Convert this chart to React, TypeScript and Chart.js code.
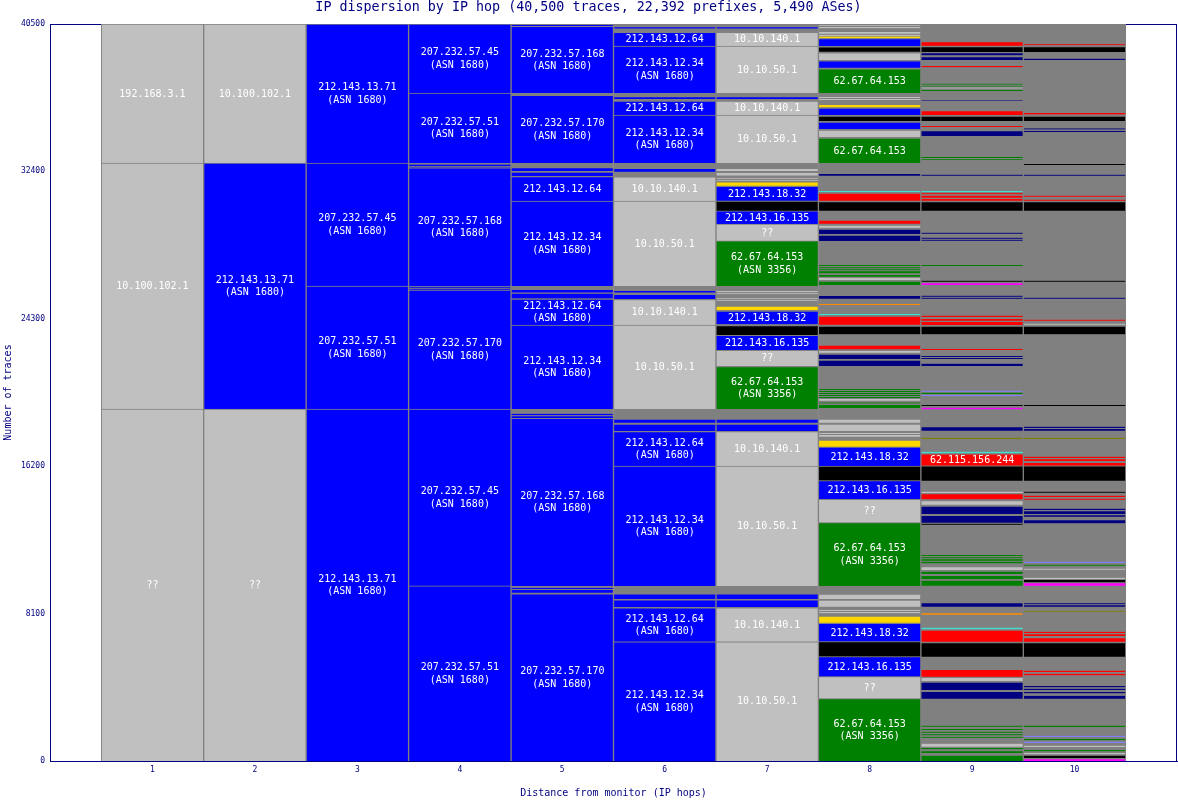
import React, { useEffect, useRef } from 'react';
import { Chart, registerables } from 'chart.js';

Chart.register(...registerables);

type Seg = [number, number, string, string];

const TITLE = 'IP dispersion by IP hop (40,500 traces, 22,392 prefixes, 5,490 ASes)';
const X_TITLE = 'Distance from monitor (IP hops)';
const Y_TITLE = 'Number of traces';
const TOTAL_TRACES = 40500;
const HOPS = [1, 2, 3, 4, 5, 6, 7, 8, 9, 10];
const Y_TICKS = [0, 8100, 16200, 24300, 32400, 40500];

// [low, high, group, label]
const hop1: Seg[] = [
  [32860, 40500, 'priv', '192.168.3.1'],
  [19340, 32860, 'priv', '10.100.102.1'],
  [0, 19340, 'priv', '??'],
];

const hop2: Seg[] = [
  [32860, 40500, 'priv', '10.100.102.1'],
  [19340, 32860, 'as1680', '212.143.13.71\n(ASN 1680)'],
  [0, 19340, 'priv', '??'],
];

const hop3: Seg[] = [
  [32860, 40500, 'as1680', '212.143.13.71\n(ASN 1680)'],
  [26100, 32860, 'as1680', '207.232.57.45\n(ASN 1680)'],
  [19340, 26100, 'as1680', '207.232.57.51\n(ASN 1680)'],
  [0, 19340, 'as1680', '212.143.13.71\n(ASN 1680)'],
];

const hop4: Seg[] = [
  [36710, 40500, 'as1680', '207.232.57.45\n(ASN 1680)'],
  [32860, 36710, 'as1680', '207.232.57.51\n(ASN 1680)'],
  [32700, 32780, 'as1680', ''],
  [32610, 32660, 'as1680', ''],
  [26100, 32590, 'as1680', '207.232.57.168\n(ASN 1680)'],
  [26010, 26060, 'as1680', ''],
  [25900, 25955, 'as1680', ''],
  [19340, 25880, 'as1680', '207.232.57.170\n(ASN 1680)'],
  [9620, 19340, 'as1680', '207.232.57.45\n(ASN 1680)'],
  [0, 9620, 'as1680', '207.232.57.51\n(ASN 1680)'],
];

const hop5: Seg[] = [
  [40390, 40445, 'as1680', ''],
  [36710, 40370, 'as1680', '207.232.57.168\n(ASN 1680)'],
  [32860, 36580, 'as1680', '207.232.57.170\n(ASN 1680)'],
  [32420, 32570, 'as1680', ''],
  [32150, 32365, 'as1680', ''],
  [30770, 32110, 'as1680', '212.143.12.64'],
  [26100, 30770, 'as1680', '212.143.12.34\n(ASN 1680)'],
  [25740, 25880, 'as1680', ''],
  [25420, 25720, 'as1680', ''],
  [23960, 25390, 'as1680', '212.143.12.64\n(ASN 1680)'],
  [19340, 23960, 'as1680', '212.143.12.34\n(ASN 1680)'],
  [19000, 19080, 'as1680', ''],
  [18840, 18950, 'as1680', ''],
  [9620, 18830, 'as1680', '207.232.57.168\n(ASN 1680)'],
  [9450, 9520, 'as1680', ''],
  [9250, 9400, 'as1680', ''],
  [0, 9180, 'as1680', '207.232.57.170\n(ASN 1680)'],
];

const hop6: Seg[] = [
  [40250, 40320, 'as1680', ''],
  [39290, 40045, 'as1680', '212.143.12.64'],
  [36710, 39290, 'as1680', '212.143.12.34\n(ASN 1680)'],
  [36380, 36470, 'as1680', ''],
  [35500, 36270, 'as1680', '212.143.12.64'],
  [32860, 35500, 'as1680', '212.143.12.34\n(ASN 1680)'],
  [32380, 32530, 'as1680', ''],
  [30770, 32100, 'priv', '10.10.140.1'],
  [26100, 30770, 'priv', '10.10.50.1'],
  [25740, 25830, 'as1680', ''],
  [25390, 25650, 'as1680', ''],
  [23960, 25350, 'priv', '10.10.140.1'],
  [19340, 23960, 'priv', '10.10.50.1'],
  [18590, 18790, 'as1680', ''],
  [18130, 18520, 'as1680', ''],
  [16210, 18100, 'as1680', '212.143.12.64\n(ASN 1680)'],
  [9620, 16210, 'as1680', '212.143.12.34\n(ASN 1680)'],
  [8900, 9180, 'as1680', ''],
  [8460, 8850, 'as1680', ''],
  [6550, 8420, 'as1680', '212.143.12.64\n(ASN 1680)'],
  [0, 6550, 'as1680', '212.143.12.34\n(ASN 1680)'],
];

const hop7: Seg[] = [
  [40250, 40320, 'as1680', ''],
  [39290, 40045, 'priv', '10.10.140.1'],
  [36710, 39290, 'priv', '10.10.50.1'],
  [36380, 36470, 'as1680', ''],
  [35500, 36270, 'priv', '10.10.140.1'],
  [32860, 35500, 'priv', '10.10.50.1'],
  [32420, 32530, 'priv', ''],
  [32170, 32350, 'priv', ''],
  [31990, 32040, 'priv', ''],
  [31880, 31930, 'priv', ''],
  [31615, 31830, 'gold', ''],
  [30790, 31580, 'as1680', '212.143.18.32'],
  [30230, 30770, 'black', ''],
  [29500, 30230, 'as1680', '212.143.16.135'],
  [28580, 29500, 'priv', '??'],
  [26100, 28580, 'as3356', '62.67.64.153\n(ASN 3356)'],
  [25760, 25830, 'priv', ''],
  [25650, 25700, 'priv', ''],
  [25380, 25430, 'priv', ''],
  [25290, 25330, 'priv', ''],
  [24780, 25000, 'gold', ''],
  [24000, 24730, 'as1680', '212.143.18.32'],
  [23410, 23930, 'black', ''],
  [22590, 23390, 'as1680', '212.143.16.135'],
  [21710, 22570, 'priv', '??'],
  [19340, 21680, 'as3356', '62.67.64.153\n(ASN 3356)'],
  [18590, 18790, 'as1680', ''],
  [18130, 18520, 'as1680', ''],
  [16210, 18100, 'priv', '10.10.140.1'],
  [9620, 16210, 'priv', '10.10.50.1'],
  [8900, 9180, 'as1680', ''],
  [8460, 8850, 'as1680', ''],
  [6550, 8420, 'priv', '10.10.140.1'],
  [0, 6550, 'priv', '10.10.50.1'],
];

const hop8: Seg[] = [
  [40400, 40450, 'priv', ''],
  [40270, 40340, 'priv', ''],
  [39970, 40060, 'priv', ''],
  [39840, 39910, 'priv', ''],
  [39730, 39810, 'gold', ''],
  [39290, 39700, 'as1680', ''],
  [38980, 39250, 'black', ''],
  [38520, 38920, 'priv', ''],
  [38100, 38470, 'as1680', ''],
  [36710, 38030, 'as3356', '62.67.64.153'],
  [36430, 36490, 'priv', ''],
  [36330, 36380, 'priv', ''],
  [35920, 36050, 'gold', ''],
  [35500, 35880, 'as1680', ''],
  [35170, 35445, 'black', ''],
  [34730, 35115, 'as1680', ''],
  [34290, 34675, 'priv', ''],
  [32860, 34236, 'as3356', '62.67.64.153'],
  [32164, 32257, 'navy', ''],
  [31268, 31323, 'cyan', ''],
  [30790, 31213, 'red', ''],
  [30241, 30735, 'black', ''],
  [29526, 29730, 'red', ''],
  [29306, 29416, 'priv', ''],
  [28960, 29235, 'navy', ''],
  [28576, 28905, 'navy', ''],
  [27200, 27255, 'as3356', ''],
  [27075, 27130, 'as3356', ''],
  [26965, 27020, 'as3356', ''],
  [26800, 26910, 'as3356', ''],
  [26615, 26705, 'as3356', ''],
  [26435, 26555, 'priv', ''],
  [26160, 26375, 'as3356', ''],
  [25405, 25553, 'navy', ''],
  [25060, 25115, 'orange', ''],
  [24510, 24565, 'cyan', ''],
  [23976, 24454, 'red', ''],
  [23448, 23905, 'black', ''],
  [22624, 22860, 'red', ''],
  [22437, 22531, 'priv', ''],
  [22091, 22366, 'navy', ''],
  [21706, 22036, 'navy', ''],
  [20390, 20440, 'as3356', ''],
  [20280, 20330, 'as3356', ''],
  [20170, 20220, 'as3356', ''],
  [20060, 20110, 'as3356', ''],
  [19950, 20000, 'as3356', ''],
  [19790, 19890, 'priv', ''],
  [19650, 19700, 'as3356', ''],
  [19400, 19560, 'as3356', ''],
  [18591, 18794, 'priv', ''],
  [18134, 18519, 'priv', ''],
  [17970, 18025, 'priv', ''],
  [17821, 17915, 'priv', ''],
  [17272, 17640, 'gold', ''],
  [16211, 17255, 'as1680', '212.143.18.32'],
  [15403, 16211, 'black', ''],
  [14381, 15403, 'as1680', '212.143.16.135'],
  [13095, 14381, 'priv', '??'],
  [9620, 13095, 'as3356', '62.67.64.153\n(ASN 3356)'],
  [8902, 9177, 'priv', ''],
  [8479, 8847, 'priv', ''],
  [8243, 8298, 'priv', ''],
  [8117, 8188, 'priv', ''],
  [7600, 7968, 'gold', ''],
  [6556, 7570, 'as1680', '212.143.18.32'],
  [5732, 6556, 'black', ''],
  [4633, 5732, 'as1680', '212.143.16.135'],
  [3424, 4633, 'priv', '??'],
  [0, 3424, 'as3356', '62.67.64.153\n(ASN 3356)'],
];

const hop9: Seg[] = [
  [39308, 39528, 'red', ''],
  [38962, 39253, 'black', ''],
  [38780, 38890, 'navy', ''],
  [38522, 38703, 'navy', ''],
  [38121, 38192, 'red', ''],
  [37170, 37220, 'as3356', ''],
  [37060, 37110, 'as3356', ''],
  [36960, 37010, 'priv', ''],
  [36820, 36870, 'as3356', ''],
  [36290, 36330, 'navy', ''],
  [35500, 35736, 'red', ''],
  [35170, 35445, 'black', ''],
  [34840, 34900, 'red', ''],
  [34346, 34637, 'navy', ''],
  [33130, 33190, 'as3356', ''],
  [33020, 33070, 'as3356', ''],
  [32164, 32219, 'navy', ''],
  [31268, 31323, 'cyan', ''],
  [31141, 31196, 'red', ''],
  [30955, 31065, 'red', ''],
  [30790, 30884, 'red', ''],
  [30241, 30735, 'black', ''],
  [28977, 29032, 'navy', ''],
  [28702, 28757, 'navy', ''],
  [28592, 28647, 'navy', ''],
  [27202, 27257, 'as3356', ''],
  [26339, 26394, 'black', ''],
  [26158, 26251, 'magenta', ''],
  [25515, 25570, 'navy', ''],
  [25405, 25460, 'navy', ''],
  [24399, 24471, 'red', ''],
  [24196, 24289, 'red', ''],
  [23960, 24163, 'red', ''],
  [23448, 23905, 'black', ''],
  [22586, 22641, 'red', ''],
  [22201, 22256, 'navy', ''],
  [22091, 22146, 'navy', ''],
  [21706, 21833, 'navy', ''],
  [20294, 20349, 'slate', ''],
  [20168, 20239, 'as3356', ''],
  [20058, 20113, 'slate', ''],
  [19508, 19563, 'black', ''],
  [19327, 19415, 'magenta', ''],
  [18151, 18371, 'navy', ''],
  [17695, 17766, 'olive', ''],
  [16909, 16997, 'cyan', ''],
  [16228, 16880, 'red', '62.115.156.244'],
  [15403, 16220, 'black', ''],
  [14727, 14799, 'priv', ''],
  [14381, 14689, 'red', ''],
  [14084, 14304, 'priv', ''],
  [13573, 14013, 'navy', ''],
  [13095, 13502, 'navy', ''],
  [12985, 13040, 'black', ''],
  [11265, 11320, 'as3356', ''],
  [11139, 11194, 'as3356', ''],
  [11007, 11084, 'as3356', ''],
  [10864, 10952, 'as3356', ''],
  [10496, 10677, 'priv', ''],
  [10276, 10403, 'as3356', ''],
  [10001, 10205, 'as3356', ''],
  [9633, 9947, 'as3356', ''],
  [8479, 8699, 'navy', ''],
  [8040, 8117, 'orange', ''],
  [7237, 7325, 'cyan', ''],
  [6556, 7199, 'red', ''],
  [5732, 6510, 'black', ''],
  [4633, 5039, 'red', ''],
  [4396, 4561, 'priv', ''],
  [3902, 4341, 'navy', ''],
  [3424, 3830, 'navy', ''],
  [1885, 1940, 'as3356', ''],
  [1704, 1758, 'as3356', ''],
  [1555, 1610, 'as3356', ''],
  [1412, 1467, 'as3356', ''],
  [1280, 1335, 'as3356', ''],
  [786, 951, 'priv', ''],
  [643, 714, 'as3356', ''],
  [440, 533, 'as3356', ''],
  [0, 330, 'as3356', ''],
];

const hop10: Seg[] = [
  [39330, 39385, 'red', ''],
  [38962, 39253, 'black', ''],
  [38522, 38594, 'navy', ''],
  [35530, 35610, 'red', ''],
  [35170, 35445, 'black', ''],
  [34705, 34760, 'navy', ''],
  [34565, 34620, 'navy', ''],
  [32752, 32807, 'black', ''],
  [32164, 32219, 'navy', ''],
  [31010, 31065, 'red', ''],
  [30790, 30845, 'red', ''],
  [30241, 30735, 'black', ''],
  [26339, 26394, 'black', ''],
  [25405, 25460, 'navy', ''],
  [24196, 24251, 'red', ''],
  [23976, 24031, 'priv', ''],
  [23448, 23905, 'black', ''],
  [19508, 19563, 'black', ''],
  [18299, 18371, 'navy', ''],
  [18151, 18244, 'navy', ''],
  [17695, 17766, 'olive', ''],
  [16651, 16722, 'red', ''],
  [16486, 16579, 'red', ''],
  [16228, 16414, 'red', ''],
  [15403, 16220, 'black', ''],
  [14744, 14799, 'black', ''],
  [14508, 14579, 'red', ''],
  [14359, 14414, 'red', ''],
  [13793, 13865, 'navy', ''],
  [13573, 13722, 'navy', ''],
  [13425, 13502, 'navy', ''],
  [13062, 13260, 'navy', ''],
  [10881, 10952, 'slate', ''],
  [10732, 10787, 'as3356', ''],
  [10513, 10568, 'priv', ''],
  [10001, 10073, 'priv', ''],
  [9820, 9947, 'black', ''],
  [9633, 9765, 'magenta', ''],
  [8611, 8666, 'navy', ''],
  [8479, 8556, 'navy', ''],
  [8204, 8259, 'olive', ''],
  [7034, 7105, 'red', ''],
  [6869, 6962, 'red', ''],
  [6556, 6776, 'red', ''],
  [5732, 6510, 'black', ''],
  [4891, 4962, 'red', ''],
  [4709, 4797, 'red', ''],
  [4050, 4121, 'navy', ''],
  [3902, 3973, 'navy', ''],
  [3720, 3792, 'navy', ''],
  [3424, 3588, 'navy', ''],
  [1868, 1940, 'as3356', ''],
  [1319, 1390, 'slate', ''],
  [1138, 1225, 'as3356', ''],
  [989, 1061, 'slate', ''],
  [769, 841, 'priv', ''],
  [533, 604, 'as3356', ''],
  [368, 440, 'priv', ''],
  [165, 291, 'black', ''],
  [0, 93, 'magenta', ''],
];

const HOP_SEGMENTS: Seg[][] = [hop1, hop2, hop3, hop4, hop5, hop6, hop7, hop8, hop9, hop10];

// styles
const GROUP_COLORS: Record<string, string> = {
  priv: '#c0c0c0',
  as1680: '#0000ff',
  as3356: '#008000',
  navy: '#000080',
  red: '#ff0000',
  black: '#000000',
  gold: '#ffd700',
  cyan: '#40e0d0',
  orange: '#ff8c00',
  magenta: '#ff00ff',
  olive: '#808000',
  slate: '#8080ff',
};
const NAVY = '#000080';
const GRAY = '#808080';
const MONO = '"DejaVu Sans Mono", "Liberation Mono", monospace';
const THIN = 170;
const LINE_GAP = 12.5;

const plotFrame = {
  id: 'plotFrame',
  beforeDatasetsDraw(chart: any) {
    const { ctx, chartArea } = chart;
    const { left, top, right, bottom } = chartArea;
    ctx.save();
    ctx.strokeStyle = NAVY;
    ctx.lineWidth = 1;
    ctx.strokeRect(left + 0.5, top + 0.5, right - left - 1, bottom - top);
    ctx.restore();
  },
};

const segmentLabels = {
  id: 'segmentLabels',
  afterDatasetsDraw(chart: any) {
    const ctx = chart.ctx;
    ctx.save();
    ctx.fillStyle = '#ffffff';
    ctx.font = `10px ${MONO}`;
    ctx.textAlign = 'center';
    ctx.textBaseline = 'middle';
    HOP_SEGMENTS.forEach((segs, i) => {
      const meta = chart.getDatasetMeta(i + 1);
      segs.forEach((s, j) => {
        if (!s[3]) return;
        const el = meta.data[j];
        if (!el) return;
        const p = el.getProps(['x', 'y', 'base'], true);
        const lines = s[3].split('\n');
        const cy = (p.y + p.base) / 2 + 0.5;
        lines.forEach((ln: string, k: number) => {
          ctx.fillText(ln, p.x, cy + (k - (lines.length - 1) / 2) * LINE_GAP);
        });
      });
    });
    ctx.restore();
  },
};

export default function App() {
  const ref = useRef<HTMLCanvasElement>(null);

  useEffect(() => {
    const canvas = ref.current;
    if (!canvas) return;

    const datasets: any[] = [
      {
        label: 'all traces',
        data: HOPS.map((h) => ({ x: h, y: [0, TOTAL_TRACES] })),
        backgroundColor: GRAY,
        borderColor: GRAY,
        borderWidth: 1,
        grouped: false,
        barPercentage: 1,
        categoryPercentage: 1,
        order: 1,
      },
    ];
    HOP_SEGMENTS.forEach((segs, i) => {
      datasets.push({
        label: `hop ${HOPS[i]}`,
        data: segs.map((s) => ({ x: HOPS[i], y: [s[0], s[1]] })),
        backgroundColor: segs.map((s) => GROUP_COLORS[s[2]]),
        borderColor: GRAY,
        borderWidth: (c: any) => {
          const s = segs[c.dataIndex];
          if (!s) return 1;
          return s[1] - s[0] < THIN ? { top: 0, bottom: 0, left: 1, right: 1 } : 1;
        },
        grouped: false,
        barPercentage: 1,
        categoryPercentage: 1,
        order: 0,
      });
    });

    const chart = new Chart(canvas, {
      type: 'bar',
      data: { datasets },
      options: {
        responsive: false,
        animation: false,
        events: [],
        layout: { padding: { left: 0, right: 1, top: 0, bottom: 0 } },
        plugins: {
          legend: { display: false },
          tooltip: { enabled: false },
          title: {
            display: true,
            text: TITLE,
            color: NAVY,
            font: { family: MONO, size: 13.35, weight: 'normal', lineHeight: 1.2 },
            padding: { top: 0, bottom: 7.98 },
          },
        },
        scales: {
          x: {
            type: 'linear',
            min: 0,
            max: 11,
            offset: false,
            grid: { display: false, drawTicks: false },
            border: { display: true, color: NAVY },
            ticks: {
              stepSize: 1,
              color: NAVY,
              font: { family: MONO, size: 8 },
              padding: 4,
              callback: (v: any) => String(v),
            },
            afterBuildTicks: (s: any) => {
              s.ticks = HOPS.map((h) => ({ value: h }));
            },
            title: {
              display: true,
              text: X_TITLE,
              color: NAVY,
              font: { family: MONO, size: 10 },
              padding: { top: 0, bottom: 1 },
            },
            afterFit: (s: any) => {
              s.height = 39;
            },
          },
          y: {
            type: 'linear',
            min: 0,
            max: TOTAL_TRACES,
            grid: { display: false, drawTicks: false },
            border: { display: true, color: NAVY },
            ticks: {
              color: NAVY,
              font: { family: MONO, size: 8 },
              padding: 5,
              callback: (v: any) => String(v),
            },
            afterBuildTicks: (s: any) => {
              s.ticks = Y_TICKS.map((v) => ({ value: v }));
            },
            title: {
              display: true,
              text: Y_TITLE,
              color: NAVY,
              font: { family: MONO, size: 10 },
              padding: { top: 2, bottom: 0 },
            },
            afterFit: (s: any) => {
              s.width = 50;
            },
          },
        },
      } as any,
      plugins: [plotFrame, segmentLabels],
    });

    return () => {
      chart.destroy();
    };
  }, []);

  return (
    <canvas
      ref={ref}
      width={1178}
      height={800}
      style={{ position: 'absolute', left: 0, top: 0 }}
    />
  );
}
